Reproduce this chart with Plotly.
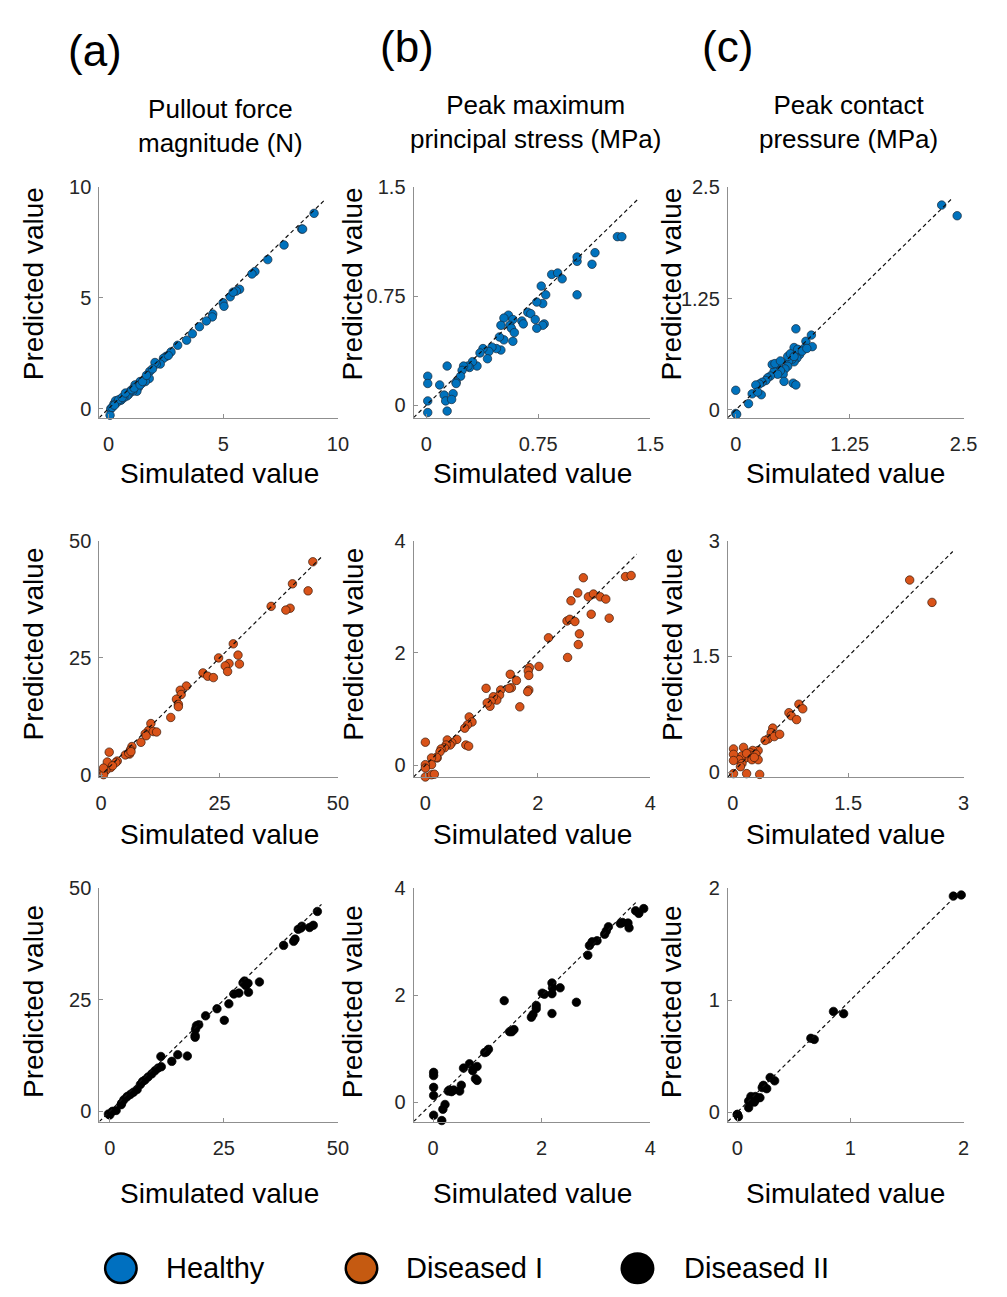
import plotly.graph_objects as go

W, H = 1007, 1297

# ---------------- data (simulated vs predicted) ----------------
# Healthy
healthy_force_sim = [8.96, 8.42, 8.46, 7.65, 6.94, 6.38, 6.25, 5.71, 5.57, 5.30, 5.43, 4.99, 5.03, 4.54, 4.52,
                     4.26, 3.96, 3.65, 3.40, 3.01, 2.72, 2.51, 2.39, 2.25, 2.08, 2.02, 1.79, 1.91, 1.77, 1.60,
                     1.37, 1.44, 1.15, 1.30, 1.23, 1.05, 0.94, 0.87, 0.80, 0.66, 0.54, 0.48, 0.37, 0.23, 0.09,
                     0.06, 0.08, 0.30, 0.34, 0.44, 0.59, 0.73, 1.01, 1.11, 1.37, 1.48, 0.15, 0.25, 2.60, 1.65]
healthy_force_pred = [8.82, 8.11, 8.11, 7.39, 6.73, 6.19, 6.08, 5.39, 5.31, 5.05, 5.26, 4.78, 4.62, 4.27, 4.14,
                      3.96, 3.70, 3.38, 3.09, 2.86, 2.56, 2.36, 2.27, 2.01, 2.01, 2.08, 1.68, 1.79, 1.36, 1.22,
                      1.22, 1.14, 1.07, 0.96, 0.78, 0.78, 0.78, 0.64, 0.57, 0.49, 0.38, 0.38, 0.35, 0.21, -0.01,
                      -0.30, -0.44, 0.35, 0.25, 0.40, 0.50, 0.70, 0.85, 0.93, 1.07, 1.22, 0.05, 0.15, 2.40, 1.50]

healthy_stress_sim = [1.28, 1.31, 1.13, 1.01, 1.01, 1.11, 1.01, 0.91, 0.84, 0.88, 0.77, 0.80, 0.78, 0.74, 0.68,
                      0.70, 0.73, 0.79, 0.78, 0.74, 0.64, 0.65, 0.55, 0.52, 0.58, 0.56, 0.57, 0.59, 0.58, 0.52,
                      0.50, 0.49, 0.50, 0.47, 0.44, 0.42, 0.41, 0.38, 0.36, 0.34, 0.31, 0.29, 0.28, 0.25, 0.24,
                      0.23, 0.20, 0.20, 0.18, 0.14, 0.09, 0.12, 0.13, 0.17, 0.14, 0.01, 0.01, 0.01, 0.01, 0.01, 0.01]
healthy_stress_pred = [1.16, 1.16, 1.05, 0.99, 1.02, 0.97, 0.76, 0.87, 0.90, 0.91, 0.82, 0.76, 0.70, 0.71, 0.64,
                       0.63, 0.59, 0.56, 0.55, 0.53, 0.58, 0.56, 0.62, 0.60, 0.59, 0.55, 0.53, 0.50, 0.44, 0.45,
                       0.55, 0.47, 0.38, 0.39, 0.40, 0.37, 0.32, 0.39, 0.36, 0.27, 0.30, 0.26, 0.27, 0.27, 0.24,
                       0.20, 0.16, 0.15, 0.08, 0.27, 0.14, 0.07, 0.03, 0.04, -0.04, 0.20, 0.15, 0.03, -0.05, -0.09, -0.11]

healthy_pressure_sim = [2.26, 2.43, 0.66, 0.83, 0.77, 0.84, 0.75, 0.70, 0.66, 0.67, 0.64, 0.64, 0.62, 0.58, 0.57,
                        0.54, 0.52, 0.47, 0.49, 0.42, 0.46, 0.38, 0.35, 0.33, 0.29, 0.26, 0.22, 0.53, 0.63, 0.66,
                        0.18, 0.28, 0.24, 0.14, 0.00, 0.00, 0.01, 0.40, 0.43, 0.49, 0.57, 0.60, 0.68, 0.73, 0.78, 0.64]
healthy_pressure_pred = [2.30, 2.18, 0.91, 0.84, 0.77, 0.71, 0.69, 0.62, 0.64, 0.58, 0.70, 0.54, 0.57, 0.55, 0.49,
                         0.46, 0.40, 0.48, 0.44, 0.43, 0.40, 0.38, 0.36, 0.33, 0.31, 0.29, 0.28, 0.32, 0.30, 0.28,
                         0.18, 0.17, 0.20, 0.07, 0.22, -0.04, -0.05, 0.51, 0.52, 0.55, 0.60, 0.63, 0.68, 0.66, 0.69, 0.60]

# Diseased I
diseased1_force_sim = [44.7, 40.4, 43.7, 35.9, 39.9, 39.0, 27.9, 28.9, 29.2, 24.8, 27.0, 26.2, 26.7, 21.5, 22.5,
                       23.7, 18.0, 16.7, 16.9, 15.9, 16.3, 16.3, 14.7, 10.5, 10.0, 9.3, 9.5, 11.0, 11.7, 8.4,
                       6.5, 6.2, 6.0, 5.1, 5.8, 6.3, 3.4, 3.1, 2.0, 1.3, 1.7, 2.4, 1.0, 0.5, 0.5, 0.5, 0.3, 0.5]
diseased1_force_pred = [45.5, 40.8, 39.3, 36.0, 35.6, 35.2, 28.0, 25.6, 23.7, 25.0, 23.8, 23.3, 22.1, 21.8, 21.1,
                        20.8, 19.0, 18.1, 17.2, 16.2, 15.1, 14.6, 12.3, 11.0, 9.5, 8.8, 8.4, 9.3, 9.2, 7.0,
                        6.1, 5.4, 4.5, 4.3, 4.7, 5.0, 3.0, 2.7, 1.6, 2.8, 4.9, 2.0, 1.0, 0.8, 0.1, -0.6, -1.3, 1.5]

diseased1_stress_sim = [3.56, 3.66, 2.81, 2.71, 2.59, 2.90, 2.99, 3.11, 3.21, 2.95, 3.27, 2.52, 2.57, 2.66, 2.74,
                        2.72, 2.53, 2.19, 2.02, 1.85, 1.83, 1.84, 1.84, 1.82, 1.62, 1.51, 1.53, 1.49, 1.68, 1.34,
                        1.32, 1.27, 1.21, 1.17, 1.15, 1.10, 1.08, 0.78, 0.83, 0.75, 0.70, 0.72, 0.77, 0.56, 0.47,
                        0.44, 0.39, 0.37, 0.34, 0.28, 0.26, 0.21, 0.20, 0.11, 0.11, 0.00, 0.00, 0.00, 0.00, 0.11, 0.16]
diseased1_stress_pred = [3.36, 3.38, 3.34, 3.07, 2.93, 3.00, 3.05, 3.00, 2.96, 2.69, 2.62, 2.57, 2.60, 2.56, 2.34,
                         2.15, 1.92, 2.27, 1.76, 1.74, 1.68, 1.60, 1.34, 1.31, 1.51, 1.62, 1.38, 1.37, 1.04, 1.34,
                         1.25, 1.16, 1.22, 1.14, 1.05, 1.11, 1.37, 0.86, 0.77, 0.72, 0.66, 0.36, 0.34, 0.46, 0.40,
                         0.36, 0.45, 0.36, 0.31, 0.29, 0.24, 0.13, 0.14, 0.13, 0.01, 0.41, 0.01, -0.05, -0.21, -0.17, -0.16]

diseased1_pressure_sim = [2.30, 2.59, 0.86, 0.91, 0.73, 0.76, 0.83, 0.52, 0.50, 0.46, 0.54, 0.61, 0.42, 0.33, 0.26,
                          0.23, 0.22, 0.16, 0.12, 0.08, 0.12, 0.10, 0.01, 0.01, 0.01, 0.14, 0.25, 0.30, 0.33, 0.18,
                          0.28, 0.01, 0.18, 0.35]
diseased1_pressure_pred = [2.49, 2.20, 0.88, 0.82, 0.77, 0.73, 0.68, 0.57, 0.51, 0.43, 0.46, 0.49, 0.41, 0.28, 0.28,
                           0.25, 0.22, 0.18, 0.21, 0.16, 0.11, 0.07, 0.30, 0.23, 0.15, 0.32, 0.16, 0.23, 0.16, 0.24,
                           0.19, -0.02, -0.02, -0.03]

# Diseased II
diseased2_force_sim = [45.5, 44.6, 43.8, 41.9, 41.3, 42.1, 40.6, 40.3, 38.1, 32.8, 29.5, 30.3, 29.2, 29.8, 30.4,
                       28.3, 27.2, 26.1, 25.1, 23.5, 21.0, 19.5, 19.0, 18.8, 18.7, 18.7, 17.0, 14.9, 13.6, 11.2,
                       11.3, 10.6, 9.9, 9.2, 8.4, 7.7, 7.2, 6.7, 6.0, 5.2, 4.5, 3.8, 3.1, 2.6, 2.5,
                       0.6, 1.4, 0.0, -0.3, 1.4]
diseased2_force_pred = [44.8, 41.7, 41.2, 41.1, 40.8, 41.5, 38.6, 38.1, 37.2, 29.0, 29.2, 28.7, 28.8, 28.2, 26.7,
                        26.5, 26.3, 24.1, 20.4, 23.0, 21.4, 19.4, 19.2, 18.4, 17.0, 16.6, 12.4, 12.7, 11.2, 12.3,
                        10.0, 9.7, 9.1, 8.4, 7.7, 7.0, 6.7, 6.0, 4.9, 4.3, 3.8, 3.3, 2.6, 1.8, 1.5,
                        0.0, 0.2, -0.8, -0.6, -3.0]

diseased2_stress_sim = [3.88, 3.79, 3.73, 3.59, 3.61, 3.49, 3.45, 3.23, 3.19, 3.16, 3.02, 2.93, 2.88, 2.85, 2.64,
                        2.34, 2.19, 2.20, 2.19, 2.19, 2.05, 2.01, 1.90, 1.90, 1.81, 1.84, 1.31, 1.49, 1.45, 1.41,
                        1.02, 0.98, 0.95, 0.67, 0.81, 0.73, 0.81, 0.78, 0.56, 0.52, 0.49, 0.38, 0.34, 0.30, 0.28,
                        0.01, 0.01, 0.01, 0.01, 0.01, 0.18, 0.22, 0.16]
diseased2_stress_pred = [3.62, 3.53, 3.58, 3.35, 3.26, 3.36, 3.34, 3.28, 3.20, 3.14, 3.02, 3.00, 2.93, 2.75, 1.87,
                         2.14, 2.23, 2.14, 2.03, 1.66, 2.02, 2.04, 1.81, 1.75, 1.59, 1.64, 1.90, 1.36, 1.32, 1.32,
                         0.99, 0.94, 0.93, 0.72, 0.67, 0.59, 0.41, 0.44, 0.64, 0.32, 0.21, 0.23, 0.20, 0.23, 0.21,
                         0.56, 0.50, 0.28, 0.13, -0.24, -0.13, -0.04, -0.34]

diseased2_pressure_sim = [1.91, 1.98, 0.85, 0.94, 0.65, 0.68, 0.33, 0.29, 0.26, 0.22, 0.23, 0.20, 0.16, 0.12, 0.10,
                          0.15, 0.17, 0.10, 0.00, 0.01, 0.00]
diseased2_pressure_pred = [1.93, 1.94, 0.90, 0.88, 0.66, 0.65, 0.28, 0.31, 0.21, 0.22, 0.24, 0.13, 0.14, 0.14, 0.10,
                           0.09, 0.12, 0.04, -0.02, -0.04, -0.02]

# axis limits, ticks and identity-line extent per panel (row-major)
axis_min = [-0.41, -0.085, -0.087, -0.4, -0.21, -0.064, -2.3, -0.36, -0.084]
axis_max = [10, 1.5, 2.5, 50, 4, 3, 50, 4, 2]
tick_values = [[0, 5, 10], [0, 0.75, 1.5], [0, 1.25, 2.5],
               [0, 25, 50], [0, 2, 4], [0, 1.5, 3],
               [0, 25, 50], [0, 2, 4], [0, 1, 2]]
identity_end = [9.45, 1.42, 2.38, 46.8, 3.76, 2.86, 46.4, 3.75, 1.96]

column_titles = ["Pullout force<br>magnitude (N)",
                 "Peak maximum<br>principal stress (MPa)",
                 "Peak contact<br>pressure (MPa)"]
column_labels = ["(a)", "(b)", "(c)"]
group_names = ["Healthy", "Diseased I", "Diseased II"]
x_label = "Simulated value"
y_label = "Predicted value"

sims = [healthy_force_sim, healthy_stress_sim, healthy_pressure_sim,
        diseased1_force_sim, diseased1_stress_sim, diseased1_pressure_sim,
        diseased2_force_sim, diseased2_stress_sim, diseased2_pressure_sim]
preds = [healthy_force_pred, healthy_stress_pred, healthy_pressure_pred,
         diseased1_force_pred, diseased1_stress_pred, diseased1_pressure_pred,
         diseased2_force_pred, diseased2_stress_pred, diseased2_pressure_pred]

# ---------------- styling / layout ----------------
FONT = "Liberation Sans, Arial, sans-serif"
row_fill = ["#0072BD", "#D95319", "#000000"]
row_edge = ["#1a2a3a", "#3a1a0a", "#000000"]
legend_fill = ["#0070C0", "#C55A11", "#000000"]

COLS_PX = [(97, 340), (417, 658), (737, 977)]
ROWS_PX = [(179, 413), (538, 778), (891, 1128)]


def px(x):
    return x / W


def py(y):
    return 1 - y / H


fig = go.Figure()
layout_axes = {}
for r in range(3):
    for c in range(3):
        i = r * 3 + c
        n = i + 1
        xa = "xaxis" if n == 1 else f"xaxis{n}"
        ya = "yaxis" if n == 1 else f"yaxis{n}"
        xref = "x" if n == 1 else f"x{n}"
        yref = "y" if n == 1 else f"y{n}"
        rng = [axis_min[i], axis_max[i]]
        common = dict(range=rng, tickvals=tick_values[i],
                      ticktext=["{:g}".format(v) for v in tick_values[i]],
                      showline=True, linecolor="#8f8f8f", linewidth=1,
                      ticks="inside", ticklen=4, tickcolor="#8f8f8f", tickwidth=1,
                      showgrid=False, zeroline=False,
                      tickfont=dict(family=FONT, size=20, color="#262626"))
        layout_axes[xa] = dict(domain=[px(COLS_PX[c][0]), px(COLS_PX[c][1])], anchor=yref,
                               ticklabelstandoff=8, **common)
        layout_axes[ya] = dict(domain=[py(ROWS_PX[r][1]), py(ROWS_PX[r][0])], anchor=xref,
                               ticklabelstandoff=3, **common)

        fig.add_trace(go.Scatter(
            x=sims[i], y=preds[i], mode="markers", xaxis=xref, yaxis=yref,
            cliponaxis=False, showlegend=False, name=group_names[r],
            marker=dict(size=8.5, color=row_fill[r],
                        line=dict(width=0.7, color=row_edge[r]))))
        fig.add_trace(go.Scatter(
            x=[axis_min[i], identity_end[i]], y=[axis_min[i], identity_end[i]],
            mode="lines", xaxis=xref, yaxis=yref, showlegend=False, hoverinfo="skip",
            line=dict(color="#111111", width=1.2, dash="4px,3px")))

annotations = []
label_pos = [(93, 40), (410, 36), (737, 36)]
title_pos = [(220, 117), (541, 113), (860, 113)]
for c in range(3):
    annotations.append(dict(text=column_labels[c], x=px(label_pos[c][0]), y=py(label_pos[c][1]),
                            xref="paper", yref="paper", showarrow=False,
                            xanchor="center", yanchor="middle",
                            font=dict(family=FONT, size=44, color="#000")))
    annotations.append(dict(text=column_titles[c], x=px(title_pos[c][0]), y=py(title_pos[c][1]),
                            xref="paper", yref="paper", showarrow=False,
                            xanchor="center", yanchor="middle",
                            font=dict(family=FONT, size=26, color="#000")))

ylab_x = [30, 355, 680]
ylab_y = [277, 643, 1006]
xlab_x = [219, 538, 857]
xlab_y = [470, 836, 1201]
for r in range(3):
    for c in range(3):
        annotations.append(dict(text=y_label, x=px(ylab_x[c]), y=py(ylab_y[r]), textangle=-90,
                                xref="paper", yref="paper", showarrow=False,
                                xanchor="center", yanchor="middle",
                                font=dict(family=FONT, size=28, color="#000")))
        annotations.append(dict(text=x_label, x=px(xlab_x[c]), y=py(xlab_y[r]),
                                xref="paper", yref="paper", showarrow=False,
                                xanchor="center", yanchor="middle",
                                font=dict(family=FONT, size=28, color="#000")))

# legend
shapes = []
leg_cx = [119, 364, 645]
leg_tx = [163, 407, 690]
leg_y = 1277
for k in range(3):
    shapes.append(dict(type="circle", xref="paper", yref="paper",
                       x0=px(leg_cx[k] - 16), x1=px(leg_cx[k] + 16),
                       y0=py(leg_y + 15), y1=py(leg_y - 15),
                       fillcolor=legend_fill[k], line=dict(color="#000", width=2.5)))
    annotations.append(dict(text=group_names[k], x=px(leg_tx[k]), y=py(leg_y),
                            xref="paper", yref="paper", showarrow=False,
                            xanchor="left", yanchor="middle",
                            font=dict(family=FONT, size=29, color="#000")))

fig.update_layout(width=W, height=H, autosize=False,
                  margin=dict(l=0, r=0, t=0, b=0),
                  paper_bgcolor="white", plot_bgcolor="white",
                  showlegend=False, annotations=annotations, shapes=shapes,
                  **layout_axes)

fig.write_html("out.html", config={"displayModeBar": False},
               post_script="document.body.style.margin='0';document.body.style.overflow='hidden';")
